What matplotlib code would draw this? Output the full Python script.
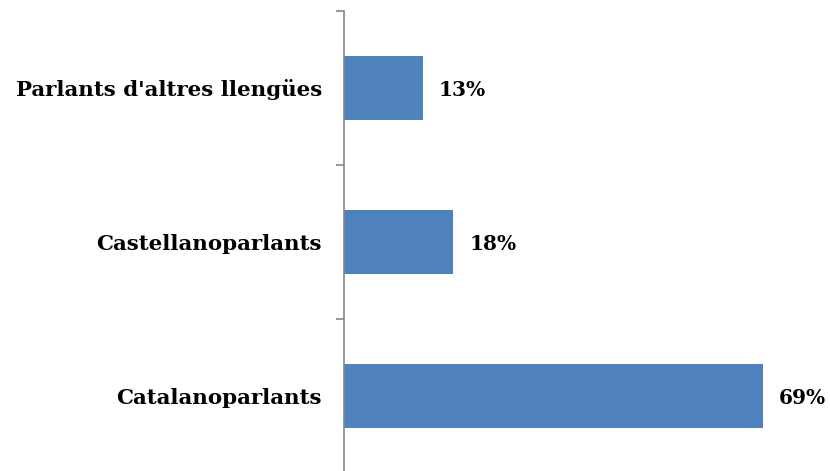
import matplotlib.pyplot as plt
from matplotlib.ticker import FixedLocator

# data
categories = ['Catalanoparlants', 'Castellanoparlants', "Parlants d'altres llengües"]
values = [69, 18, 13]
labels = ['69%', '18%', '13%']

fig = plt.figure(figsize=(8.3, 4.71), dpi=100)
ax = fig.add_axes([344 / 830, -2 / 471, 486 / 830, 462 / 471])

pos = list(range(len(categories)))
bars = ax.barh(pos, values, height=0.42, color='#4F81BD')

ax.set_xlim(0, 80)
ax.set_ylim(-0.5, len(categories) - 0.5)

for b, lab in zip(bars, labels):
    ax.annotate(lab, (b.get_width(), b.get_y() + b.get_height() / 2),
                xytext=(11.5, -1.5), textcoords='offset points',
                va='center', ha='left', fontsize=14.5, fontweight='bold',
                family='DejaVu Serif')

# category labels on minor ticks, boundary ticks on major
ax.yaxis.set_major_locator(FixedLocator([-0.5, 0.5, 1.5, 2.5]))
ax.yaxis.set_minor_locator(FixedLocator(pos))
ax.set_yticklabels([], minor=False)
ax.set_yticklabels(categories, minor=True, fontsize=15.4, fontweight='bold',
                   family='DejaVu Serif')
ax.tick_params(axis='y', which='major', length=6, color='#868686', width=1.2)
ax.tick_params(axis='y', which='minor', length=0, pad=16)

ax.set_xticks([])
for s in ['top', 'right', 'bottom']:
    ax.spines[s].set_visible(False)
ax.spines['left'].set_color('#868686')
ax.spines['left'].set_linewidth(1.2)

fig.savefig('out.png', dpi=100)
